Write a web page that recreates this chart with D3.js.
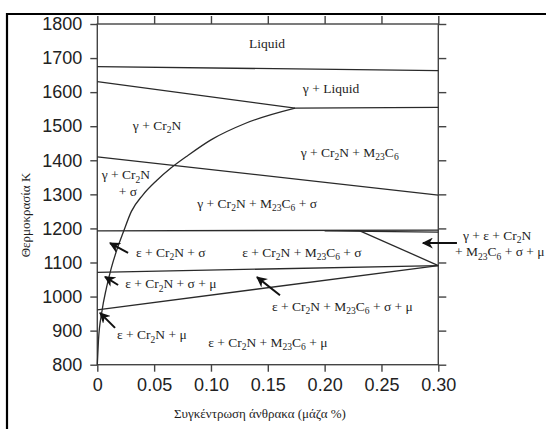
<!DOCTYPE html>
<html>
<head>
<meta charset="utf-8">
<script src="https://cdn.jsdelivr.net/npm/d3@7"></script>
<style>
  body { margin: 0; background: #fff; }
  svg { display: block; }
  .tick text { font-family: "Liberation Sans", Arial, sans-serif; font-size: 18px; fill: #222; }
  .tick line { stroke: #444; stroke-width: 1.4; }
  .box { fill: none; stroke: #444; stroke-width: 1.4; }
  .phase { fill: none; stroke: #2a2a2a; stroke-width: 1.3; }
  .lbl, .title { font-family: "Liberation Serif", "Times New Roman", serif; fill: #1e1e1e; }
  .lbl { font-size: 13.5px; }
  .title { font-size: 13px; }
  .arrow { stroke: #111; stroke-width: 2; }
</style>
</head>
<body>
<div id="chart"></div>
<script>
"use strict";

// axis ticks
let xTicks = [0, 0.05, 0.10, 0.15, 0.20, 0.25, 0.30];
let xTickLabels = ["0", "0.05", "0.10", "0.15", "0.20", "0.25", "0.30"];
let yTicks = [800, 900, 1000, 1100, 1200, 1300, 1400, 1500, 1600, 1700, 1800];

// phase boundaries, [C wt%, K]
let liquidusLine = [[0, 1675], [0.30, 1663]];
let solidusLine = [[0, 1631], [0.174, 1553], [0.30, 1555]];
let cr2nCurve = [[0, 800], [0.001, 870], [0.004, 955], [0.008, 1025], [0.012, 1080],
  [0.017, 1135], [0.023, 1190], [0.030, 1250], [0.040, 1298], [0.052, 1340],
  [0.065, 1378], [0.080, 1415], [0.100, 1460], [0.130, 1508], [0.174, 1553]];
let sigmaTopLine = [[0, 1410], [0.30, 1298]];
let epsilonTopLine = [[0, 1193], [0.30, 1195]];
let epsilonTopLine2 = [[0.2, 1193], [0.30, 1189]];
let wedgeLine = [[0.231, 1193], [0.30, 1091]];
let muTopLine = [[0, 1071], [0.30, 1091]];
let muBottomLine = [[0, 961], [0.30, 1091]];

let boundaries = [liquidusLine, solidusLine, cr2nCurve, sigmaTopLine, epsilonTopLine,
  epsilonTopLine2, wedgeLine, muTopLine, muBottomLine];

// phase field labels, "_n" = subscript
let regionLabels = [
  { text: "Liquid", x: 0.1493, y: 1730, anchor: "middle" },
  { text: "γ + Liquid", x: 0.2056, y: 1597, anchor: "middle" },
  { text: "γ + Cr_2N", x: 0.0525, y: 1489, anchor: "middle" },
  { text: "γ + Cr_2N + M_23C_6", x: 0.222, y: 1410, anchor: "middle" },
  { text: "γ + Cr_2N", x: 0.0252, y: 1345, anchor: "middle" },
  { text: "+ σ", x: 0.027, y: 1295, anchor: "middle" },
  { text: "γ + Cr_2N + M_23C_6 + σ", x: 0.1406, y: 1260, anchor: "middle" },
  { text: "ε + Cr_2N + M_23C_6 + σ", x: 0.18, y: 1117, anchor: "middle" },
  { text: "ε + Cr_2N + σ", x: 0.034, y: 1117, anchor: "start" },
  { text: "ε + Cr_2N + σ + μ", x: 0.0245, y: 1025, anchor: "start" },
  { text: "ε + Cr_2N + μ", x: 0.0174, y: 875, anchor: "start" },
  { text: "ε + Cr_2N + M_23C_6 + σ + μ", x: 0.1536, y: 958, anchor: "start" },
  { text: "ε + Cr_2N + M_23C_6 + μ", x: 0.150, y: 852, anchor: "middle" },
  { text: "γ + ε + Cr_2N", x: 0.3217, y: 1167, anchor: "start" },
  { text: "+ M_23C_6 + σ + μ", x: 0.3147, y: 1119, anchor: "start" }
];

// leader arrows, tail -> head
let arrows = [
  { from: [0.0271, 1128], to: [0.0112, 1157] },
  { from: [0.0183, 1034], to: [0.0068, 1058] },
  { from: [0.0156, 908], to: [0.0024, 952] },
  { from: [0.1607, 1004], to: [0.1405, 1057] },
  { from: [0.3164, 1157], to: [0.2865, 1157] }
];

let width = 546;
let height = 429;
let margin = { top: 24, right: 107.7, bottom: 64.3, left: 97.3 };

let svg = d3.select("#chart").append("svg")
  .attr("width", width)
  .attr("height", height)
  .attr("viewBox", [0, 0, width, height].join(" "));

let x = d3.scaleLinear()
  .domain([0, 0.30])
  .range([margin.left, width - margin.right]);

let y = d3.scaleLinear()
  .domain([800, 1800])
  .range([height - margin.bottom, margin.top]);

// outer frame (only top and left show)
svg.append("path")
  .attr("d", `M7,${height} V14 H${width}`)
  .attr("fill", "none")
  .attr("stroke", "#000")
  .attr("stroke-width", 2.2);

// axes, ticks outward on all sides
svg.append("g")
  .attr("transform", `translate(0, ${y(800)})`)
  .call(d3.axisBottom(x).tickValues(xTicks).tickSize(7).tickSizeOuter(0).tickPadding(7)
    .tickFormat((d, i) => xTickLabels[i]));

svg.append("g")
  .attr("transform", `translate(0, ${y(1800)})`)
  .call(d3.axisTop(x).tickValues(xTicks).tickSize(8).tickSizeOuter(0).tickFormat(""));

svg.append("g")
  .attr("transform", `translate(${x(0)}, 0)`)
  .call(d3.axisLeft(y).tickValues(yTicks).tickSize(7).tickSizeOuter(0).tickPadding(8)
    .tickFormat(d3.format("d")));

svg.append("g")
  .attr("transform", `translate(${x(0.30)}, 0)`)
  .call(d3.axisRight(y).tickValues(yTicks).tickSize(8).tickSizeOuter(0).tickFormat(""));

svg.selectAll(".domain").remove();

svg.append("rect")
  .attr("class", "box")
  .attr("x", x(0))
  .attr("y", y(1800))
  .attr("width", x(0.30) - x(0))
  .attr("height", y(800) - y(1800));

// phase boundaries
let line = d3.line()
  .x(d => x(d[0]))
  .y(d => y(d[1]));

svg.selectAll(".phase")
  .data(boundaries)
  .enter().append("path")
  .attr("class", "phase")
  .attr("d", d => (d === cr2nCurve ? line.curve(d3.curveMonotoneX) : line.curve(d3.curveLinear))(d));

// labels with subscripts
function addLabel(g, label) {
  let t = g.append("text")
    .attr("class", "lbl")
    .attr("x", x(label.x))
    .attr("y", y(label.y))
    .style("text-anchor", label.anchor);

  let shift = 0;
  label.text.split(/_(\d+)/).forEach((p, i) => {
    if (p === "") return;
    let sub = i % 2 === 1;
    let dy = (sub ? 3.5 : 0) - shift;
    shift = sub ? 3.5 : 0;
    let s = t.append("tspan").attr("dy", dy).text(p);
    if (sub) s.style("font-size", "9.5px");
  });
}

let labelGroup = svg.append("g");
regionLabels.forEach(l => addLabel(labelGroup, l));

// arrows
svg.append("defs").append("marker")
  .attr("id", "head")
  .attr("viewBox", "0 0 10 10")
  .attr("refX", 9)
  .attr("refY", 5)
  .attr("markerUnits", "userSpaceOnUse")
  .attr("markerWidth", 11)
  .attr("markerHeight", 11)
  .attr("orient", "auto")
  .append("path")
  .attr("d", "M0,0 L10,5 L0,10 L3,5 Z")
  .attr("fill", "#111");

svg.selectAll(".arrow")
  .data(arrows)
  .enter().append("line")
  .attr("class", "arrow")
  .attr("x1", d => x(d.from[0]))
  .attr("y1", d => y(d.from[1]))
  .attr("x2", d => x(d.to[0]))
  .attr("y2", d => y(d.to[1]))
  .attr("marker-end", "url(#head)");

// axis titles
svg.append("text")
  .attr("class", "title")
  .attr("x", 260)
  .attr("y", 418)
  .style("text-anchor", "middle")
  .text("Συγκέντρωση άνθρακα (μάζα %)");

svg.append("text")
  .attr("class", "title")
  .attr("transform", "translate(30, 215) rotate(-90)")
  .style("text-anchor", "middle")
  .text("Θερμοκρασία K");
</script>
</body>
</html>
